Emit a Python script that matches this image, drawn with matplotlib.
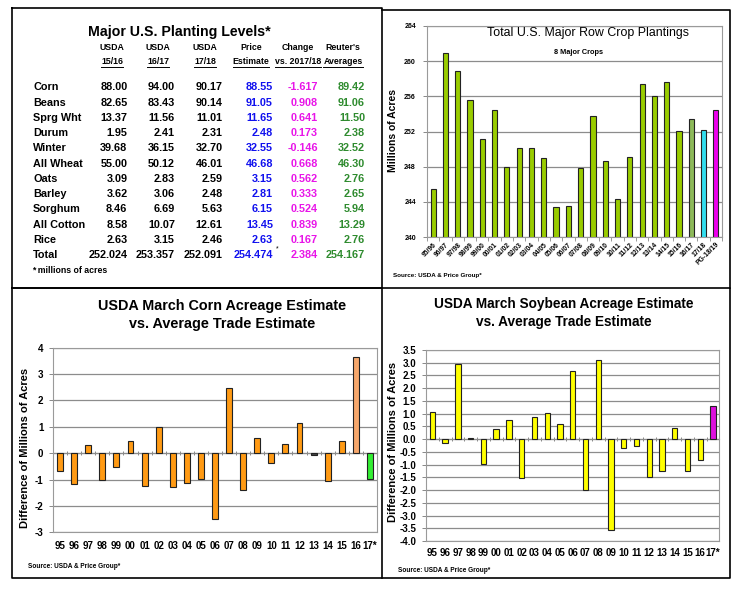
import matplotlib
matplotlib.use('Agg')
import matplotlib.pyplot as plt
import numpy as np
from matplotlib import font_manager

plt.rcParams['font.family'] = ['Liberation Sans', 'DejaVu Sans']
_installed = {f.name for f in font_manager.fontManager.ttflist}
HAS_NARROW = 'Liberation Sans Narrow' in _installed
NARROW = ['Liberation Sans Narrow', 'Liberation Sans', 'DejaVu Sans'] if HAS_NARROW \
    else ['Liberation Sans', 'DejaVu Sans']

# ---------------- table: Major U.S. Planting Levels ----------------
crops = ['Corn', 'Beans', 'Sprg Wht', 'Durum', 'Winter', 'All Wheat', 'Oats',
         'Barley', 'Sorghum', 'All Cotton', 'Rice', 'Total']
usda_1516 = [88.00, 82.65, 13.37, 1.95, 39.68, 55.00, 3.09, 3.62, 8.46, 8.58, 2.63, 252.024]
usda_1617 = [94.00, 83.43, 11.56, 2.41, 36.15, 50.12, 2.83, 3.06, 6.69, 10.07, 3.15, 253.357]
usda_1718 = [90.17, 90.14, 11.01, 2.31, 32.70, 46.01, 2.59, 2.48, 5.63, 12.61, 2.46, 252.091]
price_est = [88.55, 91.05, 11.65, 2.48, 32.55, 46.68, 3.15, 2.81, 6.15, 13.45, 2.63, 254.474]
change_1718 = [-1.617, 0.908, 0.641, 0.173, -0.146, 0.668, 0.562, 0.333, 0.524, 0.839, 0.167, 2.384]
reuters_avg = [89.42, 91.06, 11.50, 2.38, 32.52, 46.30, 2.76, 2.65, 5.94, 13.29, 2.76, 254.167]
head_top = ['USDA', 'USDA', 'USDA', 'Price', 'Change', "Reuter's"]
head_bottom = ['15/16', '16/17', '17/18', 'Estimate', 'vs. 2017/18', 'Averages']

# ---------------- total row crop plantings ----------------
crop_years = ['95/96', '96/97', '97/98', '98/99', '99/00', '00/01', '01/02', '02/03',
              '03/04', '04/05', '05/06', '06/07', '07/08', '08/09', '09/10', '10/11',
              '11/12', '12/13', '13/14', '14/15', '15/16', '16/17', '17/18', 'PG-18/19']
total_acres = [245.5, 260.9, 258.9, 255.6, 251.2, 254.5, 248.0, 250.1, 250.1, 249.0,
               243.4, 243.5, 247.8, 253.8, 248.7, 244.3, 249.1, 257.4, 256.0, 257.6,
               252.1, 253.4, 252.2, 254.5]

# ---------------- March estimate vs trade ----------------
est_years = ['95', '96', '97', '98', '99', '00', '01', '02', '03', '04', '05', '06',
             '07', '08', '09', '10', '11', '12', '13', '14', '15', '16', '17*']
corn_diff = [-0.68, -1.15, 0.30, -1.01, -0.54, 0.47, -1.26, 1.00, -1.30, -1.12, -0.97,
             -2.49, 2.48, -1.38, 0.59, -0.38, 0.33, 1.15, -0.06, -1.05, 0.48, 3.64, -0.99]
soy_diff = [1.07, -0.14, 2.96, 0.06, -0.98, 0.38, 0.77, -1.54, 0.85, 1.01, 0.58, 2.68,
            -2.01, 3.09, -3.57, -0.34, -0.25, -1.47, -1.24, 0.42, -1.27, -0.80, 1.30]

W, H = 747, 594
GRID = '#8c8c8c'
EDGE = '#222222'


def box(x0, y0, x1, y1):
    return [x0 / W, 1 - y1 / H, (x1 - x0) / W, (y1 - y0) / H]


fig = plt.figure(figsize=(W / 100, H / 100), dpi=100, facecolor='white')


def style_axes(ax):
    ax.set_axisbelow(True)
    for s in ax.spines.values():
        s.set_color('#9a9a9a')
        s.set_linewidth(0.8)
    ax.yaxis.grid(True, color=GRID, linewidth=0.9)
    ax.tick_params(axis='y', length=3, color='#888888', width=0.7)


# ---- top right: total plantings
ax1 = fig.add_axes(box(427, 26, 722, 237))
style_axes(ax1)
x1 = np.arange(len(crop_years))
top_colors = ['#99cc00'] * (len(crop_years) - 3) + ['#8dba5a', '#33ddee', '#ee00ee']
ax1.bar(x1, total_acres, width=0.42, color=top_colors, edgecolor=EDGE, linewidth=0.8)
ax1.set_ylim(240, 264)
ax1.set_xlim(-0.5, len(crop_years) - 0.5)
ax1.set_yticks(np.arange(240, 265, 4))
ax1.set_yticklabels([str(v) for v in range(240, 265, 4)], fontsize=5, fontweight='bold')
ax1.set_xticks(x1)
ax1.set_xticklabels(crop_years, rotation=45, ha='right', va='top', rotation_mode='anchor',
                    fontsize=4.9, fontweight='bold')
ax1.set_xticks(np.arange(-0.5, len(crop_years), 1), minor=True)
ax1.tick_params(axis='x', which='major', length=0, pad=3)
ax1.tick_params(axis='x', which='minor', length=3, color='#888888')
ax1.tick_params(axis='y', pad=5)


def diff_chart(ax, values, colors, ylo, yhi, step, fmt, pad):
    style_axes(ax)
    x = np.arange(len(est_years))
    ax.bar(x, values, width=0.42, color=colors, edgecolor=EDGE, linewidth=0.8)
    ax.set_ylim(ylo, yhi)
    ax.set_xlim(-0.5, len(est_years) - 0.5)
    ticks = np.arange(ylo, yhi + step / 2, step)
    ax.set_yticks(ticks)
    ax.set_yticklabels([fmt.format(t) for t in ticks], fontsize=7, fontweight='bold')
    ax.tick_params(axis='y', pad=4)
    ax.set_xticks(x)
    ax.set_xticklabels(est_years, fontsize=7, fontweight='bold')
    ax.tick_params(axis='x', length=0, pad=pad)
    zero = -ylo / (yhi - ylo)
    sec = ax.secondary_xaxis(zero)
    sec.set_xticks(np.arange(-0.5, len(est_years), 1))
    sec.set_xticklabels([''] * len(est_years) + [''])
    sec.tick_params(axis='x', length=3, direction='inout', color='#888888', width=0.7)
    for s in sec.spines.values():
        s.set_color('#888888')
        s.set_linewidth(0.8)


corn_colors = ['#ff9a14'] * (len(est_years) - 2) + ['#f6a76c', '#33ee33']
corn_colors[18] = '#444444'
ax2 = fig.add_axes(box(53, 347.7, 377, 532.3))
diff_chart(ax2, corn_diff, corn_colors, -3, 4, 1, '{:.0f}', 6)

soy_colors = ['#ffff00'] * (len(est_years) - 1) + ['#dd11dd']
ax3 = fig.add_axes(box(426, 350, 719.4, 541))
diff_chart(ax3, soy_diff, soy_colors, -4.0, 3.5, 0.5, '{:.1f}', 5)

# ---- overlay in pixel coordinates for text and panel frames
ov = fig.add_axes([0, 0, 1, 1], zorder=5)
ov.set_xlim(0, W)
ov.set_ylim(H, 0)
ov.axis('off')

frame = dict(color='black', linewidth=1.2, solid_capstyle='projecting')
ov.plot([12, 382, 382, 12, 12], [8, 8, 288, 288, 8], **frame)
ov.plot([382, 730, 730], [10, 10, 288], **frame)
ov.plot([12, 730, 730, 12, 12], [288, 288, 578, 578, 288], **frame)
ov.plot([382, 382], [288, 578], **frame)

# chart titles and labels
ov.text(588, 33, 'Total U.S. Major Row Crop Plantings', fontsize=8.9,
        ha='center', va='center')
ov.text(578, 53, '8 Major Crops', fontsize=5.3, fontweight='bold', ha='center', va='center')
ov.text(393, 130, 'Millions of Acres', fontsize=7.5, fontweight='bold', rotation=90,
        ha='center', va='center')
ov.text(393, 276, 'Source: USDA & Price Group*', fontsize=4.5, fontweight='bold',
        ha='left', va='center')

title_size = 12 if HAS_NARROW else 10.4
title_kw = dict(fontweight='bold', family=NARROW, ha='center', va='center')
ov.text(222.5, 305.7, 'USDA March Corn Acreage Estimate', fontsize=title_size, **title_kw)
ov.text(222.5, 324, 'vs. Average Trade Estimate', fontsize=title_size, **title_kw)
ov.text(25, 448, 'Difference of Millions of Acres', fontsize=8, fontweight='bold',
        rotation=90, ha='center', va='center')
ov.text(28, 566, 'Source: USDA & Price Group*', fontsize=4.7, fontweight='bold',
        ha='left', va='center')

ov.text(564, 304, 'USDA March Soybean Acreage Estimate', fontsize=title_size * 0.94,
        **title_kw)
ov.text(564, 322, 'vs. Average Trade Estimate', fontsize=title_size * 0.94, **title_kw)
ov.text(393, 442, 'Difference of Millions of Acres', fontsize=8, fontweight='bold',
        rotation=90, ha='center', va='center')
ov.text(398, 570, 'Source: USDA & Price Group*', fontsize=4.7, fontweight='bold',
        ha='left', va='center')

# ---- table
row_size = 9.3 if HAS_NARROW else 7.8
ov.text(179, 32, 'Major U.S. Planting Levels*', fontsize=10.2, fontweight='bold',
        ha='center', va='center')
col_right = [127.5, 175, 222.5, 273, 318, 365]
col_center = [112, 158, 205, 251, 298, 343]
head_objs = []
for cx, h1, h2 in zip(col_center, head_top, head_bottom):
    ov.text(cx, 47.7, h1, fontsize=6.3, fontweight='bold', ha='center', va='center')
    head_objs.append(ov.text(cx, 61, h2, fontsize=6.3, fontweight='bold',
                             ha='center', va='center'))

columns = [usda_1516, usda_1617, usda_1718, price_est, change_1718, reuters_avg]
col_colors = ['black', 'black', 'black', '#1010ee', '#e814e8', '#2e8b2e']
row_y0, row_step = 87.3, 15.25
for i, crop in enumerate(crops):
    y = row_y0 + i * row_step
    ov.text(33, y, crop, fontsize=row_size, fontweight='bold', family=NARROW,
            ha='left', va='center')
    last = i == len(crops) - 1
    for j, (col, xr, c) in enumerate(zip(columns, col_right, col_colors)):
        fmt = '{:.3f}' if (last or j == 4) else '{:.2f}'
        ov.text(xr, y, fmt.format(col[i]), fontsize=row_size, fontweight='bold',
                family=NARROW, color=c, ha='right', va='center')
ov.text(275.5, row_y0 + 11 * row_step - 6, '*', fontsize=5, ha='left', va='center')
ov.text(32, 270.7, '* millions of acres', fontsize=6.3, fontweight='bold',
        ha='left', va='center')

# underline second header row
fig.canvas.draw()
inv = ov.transData.inverted()
for t in head_objs:
    bb = t.get_window_extent()
    (xa, ya), (xb, yb) = inv.transform([[bb.x0, bb.y0], [bb.x1, bb.y1]])
    ov.plot([xa, xb], [ya + 1.2, ya + 1.2], color='black', linewidth=0.7)

fig.savefig('out.png', dpi=100, facecolor='white')
